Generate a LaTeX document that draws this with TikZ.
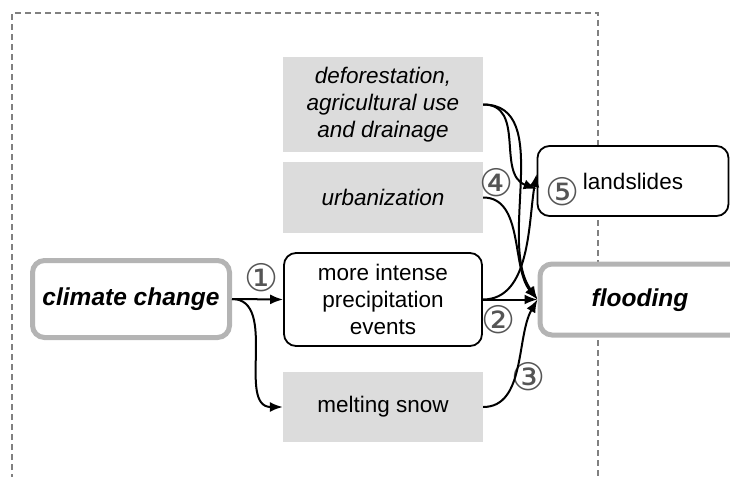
\documentclass[tikz,border=0pt]{standalone}
\usepackage{fontspec}
\setmainfont{Liberation Sans}
\newfontfamily\numfont{DejaVu Sans}
\usetikzlibrary{arrows.meta}

\definecolor{boxgray}{HTML}{DCDCDC}
\definecolor{rimgray}{HTML}{B4B4B4}
\definecolor{framegray}{HTML}{808080}
\definecolor{numgray}{HTML}{555555}

\begin{document}
\begin{tikzpicture}[
    x = 1pt, y = -1pt,
    cause/.style = {shape = rectangle, fill = boxgray, minimum width = 200pt, align = center, font = \fontsize{22.5}{27}\selectfont\itshape, inner sep = 0pt},
    effect/.style = {shape = rectangle, rounded corners = 12pt, draw = black, line width = 1.8pt, fill = white, align = center, font = \fontsize{22.5}{27}\selectfont, inner sep = 0pt},
    main/.style = {shape = rectangle, rounded corners = 12pt, draw = rimgray, line width = 5pt, fill = white, font = \fontsize{24.5}{28}\selectfont\bfseries\itshape, inner sep = 0pt},
    num/.style = {font = \numfont\fontsize{38}{38}\selectfont, text = numgray, inner sep = 0pt},
    link/.style = {line width = 2pt, -{Latex[length = 13pt, width = 10pt]}},
    ]
    \useasboundingbox (0,0) rectangle (730,476);
    \draw[framegray, line width = 1.4pt, dash pattern = on 6pt off 4pt] (12,480) -- (12,13) -- (598,13) -- (598,480);

    \node[cause, minimum height = 95pt] (D) at (383,104.5) {deforestation,\\agricultural use\\and drainage};
    \node[cause, minimum height = 71pt] (U) at (383,197.5) {urbanization};
    \node[cause, minimum height = 70pt, font = \fontsize{22.5}{27}\selectfont] (S) at (383,407) {melting snow};
    \node[effect, minimum width = 198pt, minimum height = 93pt] (P) at (383,299.5) {more intense\\precipitation\\events};
    \node[effect, minimum width = 191pt, minimum height = 70pt] (L) at (633,181) {};
    \node[main, minimum width = 197pt, minimum height = 77pt] (C) at (131,299) {climate change};
    \node[main, minimum width = 210pt, minimum height = 71pt] (F) at (645,299.5) {};
    \node[font = \fontsize{22.5}{27}\selectfont] (Lt) at (633,181) {landslides};
    \node[font = \fontsize{24.5}{28}\selectfont\bfseries\itshape] (Ft) at (640,300) {flooding};

    \node[num] (n1) at (262,277.5) {①};
    \node[num] (n2) at (499,320) {②};
    \node[num] (n3) at (529,377) {③};
    \node[num] (n4) at (497,182.5) {④};
    \node[num] (n5) at (563,192) {⑤};

    \path[link] (C.east) edge (P.west);
    \path[link] (C.east) edge[out = 0, in = 180] (S.west);
    \path[link] (P.east) edge (F.west);
    \path[link] (P.east) edge[out = 0, in = 260, looseness = 0.9] ([yshift = 7pt]L.west);
    \path[link] (D.east) edge[out = 0, in = 160, looseness = 1.1] ([yshift = -8pt]L.west);
    \path[link] (D.east) edge[out = 0, in = 125, looseness = 0.9] (F.west);
    \path[link] (U.east) edge[out = 0, in = 130, looseness = 0.9] (F.west);
    \path[link] (S.east) edge[out = 0, in = 240, looseness = 0.9] (F.west);
\end{tikzpicture}
\end{document}
